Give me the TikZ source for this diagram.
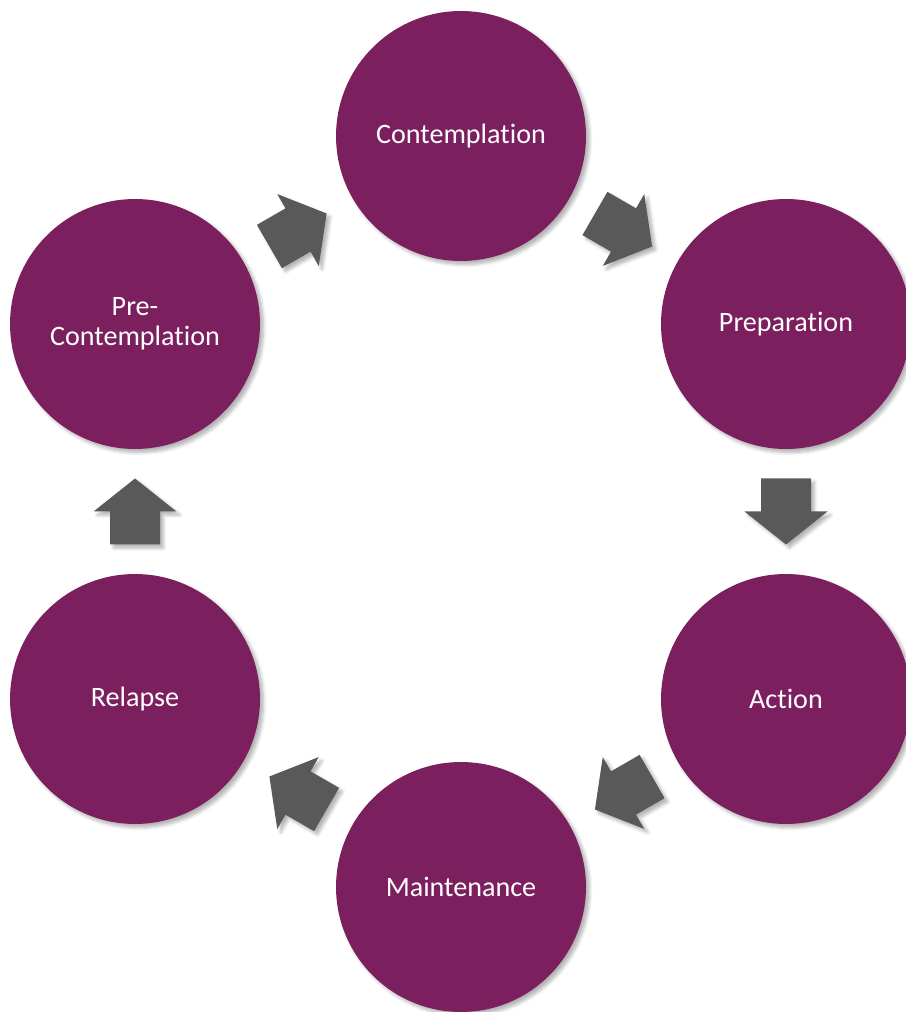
\documentclass[tikz,border=0pt]{standalone}
\usepackage{fontspec}
\setmainfont{Carlito}[Ligatures=NoCommon]
\usepackage{tikz}
\usetikzlibrary{calc,shadows.blur}
\definecolor{stageplum}{HTML}{7B1F5E}
\definecolor{arrowgray}{HTML}{595959}

\begin{document}
\begin{tikzpicture}[x=0.02cm,y=0.02cm,
    stage/.style={circle,fill=stageplum,text=white,minimum size=5cm,inner sep=0pt,
      align=center,font=\fontsize{16}{17}\selectfont,
      blur shadow={shadow xshift=2pt,shadow yshift=-2pt,shadow blur steps=6,shadow opacity=30}},
    blockarrow/.pic={
      \fill[arrowgray,blur shadow={shadow xshift=2pt,shadow yshift=-2pt,shadow blur steps=5,shadow opacity=30}]
        (-33,-25) -- (0,-25) -- (0,-41.5) -- (33,0) -- (0,41.5) -- (0,25) -- (-33,25) -- cycle;}]
  \useasboundingbox (0,0) rectangle (906,1012);
  % six stages round the cycle
  \node[stage] (con) at (461,876) {Contemplation};
  \node[stage] (prep) at (786,688) {Preparation};
  \node[stage] (act) at (786,313) {Action};
  \node[stage] (maint) at (461,125) {Maintenance};
  \node[stage] (rel) at (135,313) {Relapse};
  \node[stage] (pre) at (135,688) {Pre-\\Contemplation};
  % arrows between them
  \pic[rotate=30] at ($(pre)!0.5!(con)$) {blockarrow};
  \pic[rotate=-30] at ($(con)!0.5!(prep)$) {blockarrow};
  \pic[rotate=-90] at ($(prep)!0.5!(act)$) {blockarrow};
  \pic[rotate=-150] at ($(act)!0.5!(maint)$) {blockarrow};
  \pic[rotate=150] at ($(maint)!0.5!(rel)$) {blockarrow};
  \pic[rotate=90] at ($(rel)!0.5!(pre)$) {blockarrow};
\end{tikzpicture}
\end{document}
